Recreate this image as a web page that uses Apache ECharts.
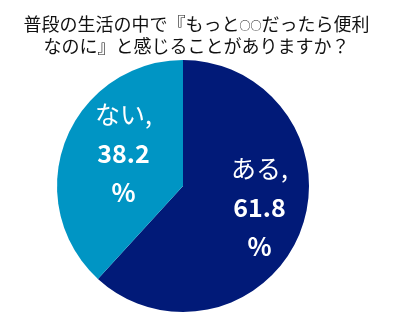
<!DOCTYPE html>
<html>
<head>
<meta charset="utf-8">
<script src="https://cdn.jsdelivr.net/npm/echarts@6/dist/echarts.min.js"></script>
<style>
html,body{margin:0;padding:0;background:#fff;}
#chart{width:393px;height:322px;}
</style>
</head>
<body>
<div id="chart"></div>
<script>
var titleLine1a = '普段の生活の中で『もっと';
var titleCircles = '○○';
var titleLine1b = 'だったら便利';
var titleLine2 = 'なのに』と感じることがありますか？';
var categories = ['ある', 'ない'];
var values = [61.8, 38.2];
var colors = ['#011A78', '#0095C4'];
var labelShift = [[15, -2], [2, -9]];

var chart = echarts.init(document.getElementById('chart'));
chart.setOption({
  animation: false,
  title: {
    text: '{t|' + titleLine1a + '}{c|' + titleCircles + '}{t|' + titleLine1b + '}\n{t|' + titleLine2 + '}',
    left: 'center',
    top: 8,
    textStyle: {
      fontFamily: 'Noto Sans CJK JP',
      fontSize: 18,
      fontWeight: 'normal',
      color: '#111',
      lineHeight: 22,
      rich: {
        t: { fontFamily: 'Noto Sans CJK JP', fontSize: 18, color: '#111', lineHeight: 22 },
        c: { fontFamily: 'Noto Sans CJK JP', fontSize: 11, color: '#111', lineHeight: 22, padding: [3, 0, 0, 0] }
      }
    }
  },
  series: [{
    type: 'pie',
    center: [183, 186],
    radius: [0, 126],
    startAngle: 90,
    clockwise: true,
    label: {
      show: true,
      position: 'inside',
      color: '#fff',
      fontFamily: 'Noto Sans CJK JP',
      formatter: function (p) {
        return '{n|' + p.name + ',}\n{v|' + p.value + '}\n{v|%}';
      },
      rich: {
        n: { fontSize: 25, fontWeight: 'normal', color: '#fff', lineHeight: 39, fontFamily: 'Noto Sans CJK JP' },
        v: { fontSize: 25, fontWeight: 'bold', color: '#fff', lineHeight: 39, fontFamily: 'Noto Sans CJK JP' }
      }
    },
    labelLine: { show: false },
    labelLayout: function (params) {
      var s = labelShift[params.dataIndex];
      return { dx: s[0], dy: s[1] };
    },
    itemStyle: { borderWidth: 0 },
    emphasis: { disabled: true },
    data: categories.map(function (c, i) {
      return { name: c, value: values[i], itemStyle: { color: colors[i] } };
    })
  }]
});
</script>
</body>
</html>
